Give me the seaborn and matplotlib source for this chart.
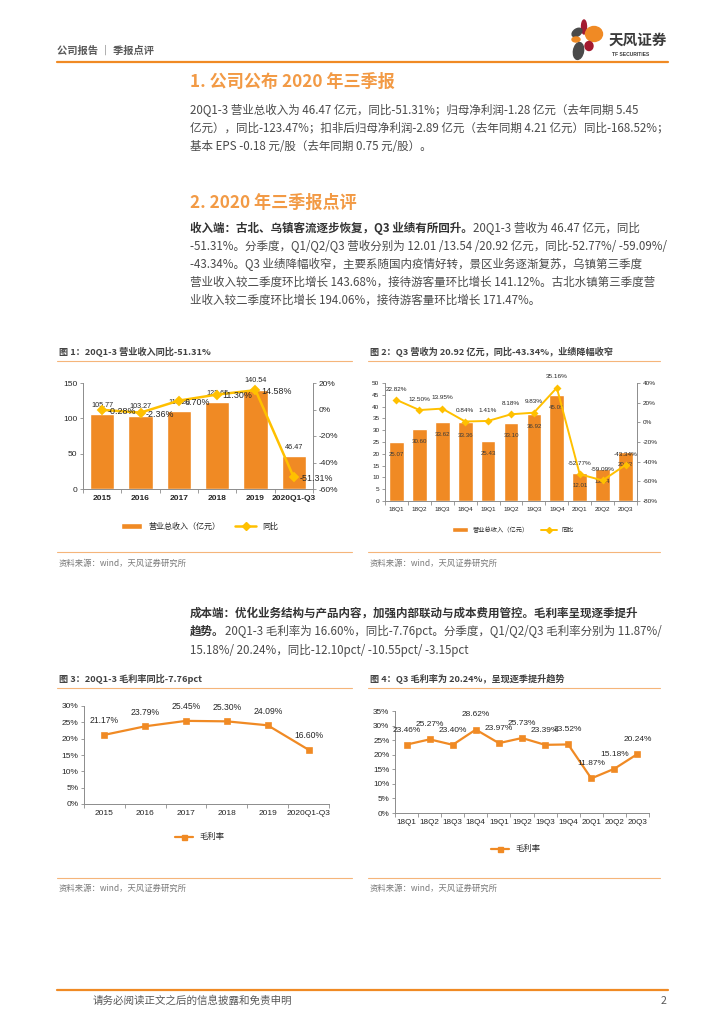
import numpy as np
import matplotlib
matplotlib.use("Agg")
import matplotlib.pyplot as plt
import matplotlib.ticker as ticker
from matplotlib.lines import Line2D
from matplotlib.patches import Patch, Ellipse
import seaborn as sns

# 天风证券 季报点评 第2页：营收与毛利率图表

years = ["2015", "2016", "2017", "2018", "2019", "2020Q1-Q3"]
revenue = [105.77, 103.27, 110.20, 122.65, 140.54, 46.47]
revenue_yoy = [-0.28, -2.36, 6.70, 11.30, 14.58, -51.31]

quarters = ["18Q1", "18Q2", "18Q3", "18Q4", "19Q1", "19Q2", "19Q3", "19Q4", "20Q1", "20Q2", "20Q3"]
q_revenue = [25.07, 30.60, 33.62, 33.36, 25.43, 33.10, 36.92, 45.09, 12.01, 13.54, 20.92]
q_revenue_yoy = [22.82, 12.50, 13.95, 0.84, 1.41, 8.18, 9.83, 35.16, -52.77, -59.09, -43.34]

gross_margin = [21.17, 23.79, 25.45, 25.30, 24.09, 16.60]
q_gross_margin = [23.46, 25.27, 23.40, 28.62, 23.97, 25.73, 23.39, 23.52, 11.87, 15.18, 20.24]

ORANGE = "#F08A24"
YELLOW = "#FFC000"
TITLE_ORANGE = "#F29A45"
LINE_ORANGE = "#F5B57A"
RED = "#A3192F"
GRAY_LOGO = "#4a4a4a"
TEXT = "#4a4a4a"
DARK = "#262626"
SPINE = "#8c8c8c"

sns.set_theme(style="white")
plt.rcParams["font.family"] = ["Liberation Sans", "Noto Sans CJK SC", "DejaVu Sans"]
CJK = ["Noto Sans CJK SC", "DejaVu Sans"]

W, H = 724, 1024
fig = plt.figure(figsize=(7.24, 10.24), dpi=100)


def fx(x):
    return x / W


def fy(y):
    return 1 - y / H


def px_axes(x0, y0, x1, y1):
    return fig.add_axes([fx(x0), fy(y1), (x1 - x0) / W, (y1 - y0) / H])


def hline(x0, x1, y, color=LINE_ORANGE, lw=0.8):
    fig.add_artist(Line2D([fx(x0), fx(x1)], [fy(y), fy(y)], transform=fig.transFigure,
                          color=color, lw=lw))


def put(x, y, s, size, color=TEXT, weight="normal", ha="left", family=CJK):
    return fig.text(fx(x), fy(y), s, fontsize=size, color=color, fontweight=weight,
                    ha=ha, va="center", family=family)


renderer = fig.canvas.get_renderer()


def rich_line(x, y, parts, size=8.3):
    # 粗体 + 常规 拼接成一行
    for txt, bold in parts:
        t = put(x, y, txt, size, color="#333333" if bold else TEXT,
                weight="bold" if bold else "normal")
        x = t.get_window_extent(renderer).x1


def style_axes(ax, n, right=False):
    for side in ["top", "right", "left", "bottom"]:
        ax.spines[side].set_visible(False)
    ax.spines["left"].set_visible(True)
    ax.spines["bottom"].set_visible(True)
    if right:
        ax.spines["right"].set_visible(True)
    for s in ax.spines.values():
        s.set_color(SPINE)
        s.set_linewidth(0.7)
    ax.set_xlim(-0.5, n - 0.5)
    ax.set_xticks(np.arange(-0.5, n), minor=True)
    ax.tick_params(axis="x", which="major", bottom=False, length=0, pad=4)
    ax.tick_params(axis="x", which="minor", bottom=True, length=3, width=0.6, color=SPINE)
    ax.tick_params(axis="y", left=True, length=2.5, width=0.6, color=SPINE, pad=1.5)
    ax.set_xlabel("")
    ax.set_ylabel("")
    ax.grid(False)


pct = ticker.FuncFormatter(lambda v, _: f"{v:.0f}%")

# ---------------- 页眉 ----------------
put(57, 51, "公司报告 ｜ 季报点评", 7.4, color="#595959", weight="bold")
hline(57, 668, 62, color=ORANGE, lw=1.6)

logo = px_axes(568, 16, 608, 62)
logo.set_xlim(568, 608)
logo.set_ylim(62, 16)
logo.axis("off")
for (cx, cy, w, h, ang, c) in [
    (584, 27, 5, 14, 0, RED),
    (577, 32.5, 11, 7, -35, GRAY_LOGO),
    (594, 34, 17, 15, 0, ORANGE),
    (576, 39.5, 8, 5, 0, ORANGE),
    (589, 46, 8, 9, 0, RED),
    (578.5, 51, 10, 17, 10, GRAY_LOGO),
]:
    logo.add_patch(Ellipse((cx, cy), w, h, angle=ang, color=c))
put(609, 40, "天风证券", 10.5, color="#3a3a3a", weight="bold")
put(612, 55, "TF SECURITIES", 3.6, color="#3a3a3a", weight="bold", family=["Liberation Sans"])

# ---------------- 正文 ----------------
put(190, 82, "1. 公司公布 2020 年三季报", 12.3, color=TITLE_ORANGE, weight="bold")
rich_line(190, 110, [("20Q1-3 营业总收入为 46.47 亿元，同比-51.31%；归母净利润-1.28 亿元（去年同期 5.45", False)])
rich_line(190, 128, [("亿元），同比-123.47%；扣非后归母净利润-2.89 亿元（去年同期 4.21 亿元）同比-168.52%；", False)])
rich_line(190, 146, [("基本 EPS -0.18 元/股（去年同期 0.75 元/股）。", False)])

put(190, 203, "2. 2020 年三季报点评", 12.3, color=TITLE_ORANGE, weight="bold")
rich_line(190, 228, [("收入端：古北、乌镇客流逐步恢复，Q3 业绩有所回升。", True),
                     ("20Q1-3 营收为 46.47 亿元，同比", False)])
rich_line(190, 246, [("-51.31%。分季度，Q1/Q2/Q3 营收分别为 12.01 /13.54 /20.92 亿元，同比-52.77%/ -59.09%/", False)])
rich_line(190, 264, [("-43.34%。Q3 业绩降幅收窄，主要系随国内疫情好转，景区业务逐渐复苏，乌镇第三季度", False)])
rich_line(190, 282, [("营业收入较二季度环比增长 143.68%，接待游客量环比增长 141.12%。古北水镇第三季度营", False)])
rich_line(190, 300, [("业收入较二季度环比增长 194.06%，接待游客量环比增长 171.47%。", False)])

rich_line(190, 613, [("成本端：优化业务结构与产品内容，加强内部联动与成本费用管控。毛利率呈现逐季提升", True)])
rich_line(190, 631, [("趋势。", True),
                     ("20Q1-3 毛利率为 16.60%，同比-7.76pct。分季度，Q1/Q2/Q3 毛利率分别为 11.87%/", False)])
rich_line(190, 650, [("15.18%/ 20.24%，同比-12.10pct/ -10.55pct/ -3.15pct", False)])

# 图框标题、分隔线、资料来源
for x0, x1, y_title, y_top, y_bot, y_src, title in [
    (57, 352, 352, 361, 552, 563, "图 1：20Q1-3 营业收入同比-51.31%"),
    (368, 660, 352, 361, 552, 563, "图 2：Q3 营收为 20.92 亿元，同比-43.34%，业绩降幅收窄"),
    (57, 352, 679, 688, 878, 888, "图 3：20Q1-3 毛利率同比-7.76pct"),
    (368, 660, 679, 688, 878, 888, "图 4：Q3 毛利率为 20.24%，呈现逐季提升趋势"),
]:
    put(x0 + 2, y_title, title, 6.6, color="#404040", weight="bold")
    hline(x0, x1, y_top)
    hline(x0, x1, y_bot)
    put(x0 + 2, y_src, "资料来源：wind，天风证券研究所", 6, color="#7a7a7a")

# ---------------- 图1 ----------------
ax1 = px_axes(83, 383, 313, 489)
sns.barplot(x=years, y=revenue, color=ORANGE, saturation=1, width=0.63, ax=ax1)
ax1.bar_label(ax1.containers[0], labels=[f"{v:.2f}" for v in revenue], padding=4,
              fontsize=5.2, color=DARK)
ax1.set_ylim(0, 150)
ax1.set_yticks([0, 50, 100, 150])
style_axes(ax1, len(years), right=True)
ax1.tick_params(axis="both", labelsize=6, labelcolor=DARK)
for lab in ax1.get_xticklabels():
    lab.set_fontweight("bold")

ax1r = ax1.twinx()
sns.pointplot(x=years, y=revenue_yoy, color=YELLOW, marker="D", markersize=4,
              linewidth=1.8, errorbar=None, ax=ax1r)
ax1r.set_ylim(-60, 20)
ax1r.set_yticks([-60, -40, -20, 0, 20])
ax1r.yaxis.set_major_formatter(pct)
ax1r.set_xlim(-0.5, len(years) - 0.5)
for s in ax1r.spines.values():
    s.set_visible(False)
ax1r.tick_params(axis="y", right=True, length=2.5, width=0.6, color=SPINE, pad=1.5,
                 labelsize=6, labelcolor=DARK)
ax1r.set_ylabel("")
for i, v in enumerate(revenue_yoy):
    ax1r.annotate(f"{v:.2f}%", (i, v), xytext=(4, -1), textcoords="offset points",
                  ha="left", va="center", fontsize=6.4, color=DARK)

fig.legend(handles=[Patch(facecolor=ORANGE, label="营业总收入（亿元）"),
                    Line2D([0], [0], color=YELLOW, marker="D", lw=1.8, ms=4, label="同比")],
           loc="center", bbox_to_anchor=(fx(200), fy(526)), ncol=2, frameon=False,
           prop={"family": CJK, "size": 5.8}, handlelength=2.6, handleheight=0.8,
           columnspacing=1.8)

# ---------------- 图2 ----------------
ax2 = px_axes(385, 383, 637, 501)
sns.barplot(x=quarters, y=q_revenue, color=ORANGE, saturation=1, width=0.64, ax=ax2)
ax2.bar_label(ax2.containers[0], labels=[f"{v:.2f}" for v in q_revenue], padding=-11,
              fontsize=4.4, color="#3a3a3a")
ax2.set_ylim(0, 50)
ax2.set_yticks(np.arange(0, 51, 5))
style_axes(ax2, len(quarters), right=True)
ax2.tick_params(axis="both", labelsize=4.6, labelcolor=DARK)

ax2r = ax2.twinx()
sns.pointplot(x=quarters, y=q_revenue_yoy, color=YELLOW, marker="D", markersize=3,
              linewidth=1.4, errorbar=None, ax=ax2r)
ax2r.set_ylim(-80, 40)
ax2r.set_yticks(np.arange(-80, 41, 20))
ax2r.yaxis.set_major_formatter(pct)
ax2r.set_xlim(-0.5, len(quarters) - 0.5)
for s in ax2r.spines.values():
    s.set_visible(False)
ax2r.tick_params(axis="y", right=True, length=2.5, width=0.6, color=SPINE, pad=1.5,
                 labelsize=4.6, labelcolor=DARK)
ax2r.set_ylabel("")
for i, v in enumerate(q_revenue_yoy):
    ax2r.annotate(f"{v:.2f}%", (i, v), xytext=(0, 6), textcoords="offset points",
                  ha="center", va="bottom", fontsize=4.6, color=DARK)

fig.legend(handles=[Patch(facecolor=ORANGE, label="营业总收入（亿元）"),
                    Line2D([0], [0], color=YELLOW, marker="D", lw=1.4, ms=3, label="同比")],
           loc="center", bbox_to_anchor=(fx(513), fy(530)), ncol=2, frameon=False,
           prop={"family": CJK, "size": 4.5}, handlelength=2.6, handleheight=0.8,
           columnspacing=1.8)

# ---------------- 图3 ----------------
ax3 = px_axes(84, 706, 329, 804)
sns.pointplot(x=years, y=gross_margin, color=ORANGE, marker="s", markersize=3.6,
              linewidth=1.6, errorbar=None, ax=ax3)
ax3.set_ylim(0, 30)
ax3.set_yticks(np.arange(0, 31, 5))
ax3.yaxis.set_major_formatter(pct)
style_axes(ax3, len(years))
ax3.tick_params(axis="both", labelsize=6, labelcolor=DARK)
for i, v in enumerate(gross_margin):
    ax3.annotate(f"{v:.2f}%", (i, v), xytext=(0, 7), textcoords="offset points",
                 ha="center", va="bottom", fontsize=6.2, color=DARK)
fig.legend(handles=[Line2D([0], [0], color=ORANGE, marker="s", lw=1.6, ms=3.6, label="毛利率")],
           loc="center", bbox_to_anchor=(fx(200), fy(837)), frameon=False,
           prop={"family": CJK, "size": 6}, handlelength=2.2)

# ---------------- 图4 ----------------
ax4 = px_axes(395, 711, 649, 813)
sns.pointplot(x=quarters, y=q_gross_margin, color=ORANGE, marker="s", markersize=3.6,
              linewidth=1.6, errorbar=None, ax=ax4)
ax4.set_ylim(0, 35)
ax4.set_yticks(np.arange(0, 36, 5))
ax4.yaxis.set_major_formatter(pct)
style_axes(ax4, len(quarters))
ax4.tick_params(axis="both", labelsize=5.9, labelcolor=DARK)
for i, v in enumerate(q_gross_margin):
    ax4.annotate(f"{v:.2f}%", (i, v), xytext=(0, 8), textcoords="offset points",
                 ha="center", va="bottom", fontsize=6, color=DARK)
fig.legend(handles=[Line2D([0], [0], color=ORANGE, marker="s", lw=1.6, ms=3.6, label="毛利率")],
           loc="center", bbox_to_anchor=(fx(516), fy(849)), frameon=False,
           prop={"family": CJK, "size": 6}, handlelength=2.2)

# ---------------- 页脚 ----------------
hline(57, 668, 990, color=ORANGE, lw=1.6)
put(93, 1001, "请务必阅读正文之后的信息披露和免责申明", 7.6, color="#595959")
put(666, 1001, "2", 7.6, color="#595959", ha="right")

fig.savefig("out.png", dpi=100)
